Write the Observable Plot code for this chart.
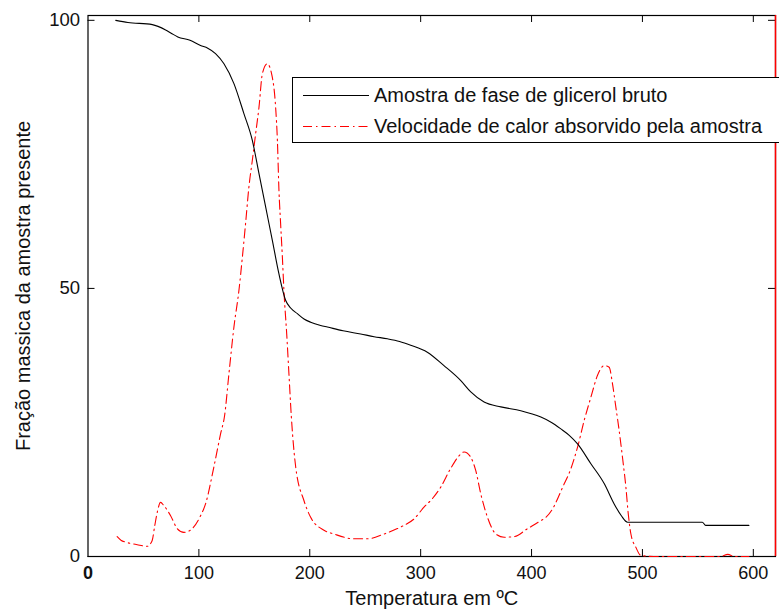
<!DOCTYPE html>
<html>
<head>
<meta charset="utf-8">
<script src="https://cdn.jsdelivr.net/npm/d3@7"></script>
<script src="https://cdn.jsdelivr.net/npm/@observablehq/plot@0.6"></script>
<style>
  html, body { margin: 0; padding: 0; background: #fff; overflow: hidden; }
  #wrap { position: relative; width: 779px; height: 612px; overflow: hidden; font-family: "Liberation Sans", Arial, sans-serif; }
  #legend { position: absolute; left: 292px; top: 77px; width: 520px; height: 64px; border: 1px solid #000; background: #fff; box-sizing: content-box; }
  .row { position: absolute; left: 0; height: 24px; display: flex; align-items: center; }
  .row span { position: absolute; left: 81px; white-space: nowrap; font-size: 20px; color: #111; }
  .row svg { position: absolute; left: 10px; }
</style>
</head>
<body>
<div id="wrap">
  <div id="chart"></div>
  <div id="legend"></div>
</div>
<script>
// ---- Data ----
// TG curve: mass fraction (%) vs temperature (°C)
const tgTemp = [25, 36, 58, 70, 75, 81, 92, 101.5, 108, 115, 122.6, 131.6, 140.6, 148.2, 154.2, 160.2, 166.2, 172.2, 178.2, 183, 188.8, 194.8, 200.8, 209.8, 215.9, 230, 245.9, 258, 270, 281, 291, 306, 321, 336.2, 345.2, 357.2, 372.3, 390.3, 408.4, 418, 426.4, 434, 441.5, 453.5, 465.5, 474.5, 481, 486.6, 500, 520, 554, 557, 575, 596];
const tgMass = [100, 99.6, 99.2, 98.2, 97.6, 96.9, 96.3, 95.3, 94.8, 93.8, 91.9, 88.2, 82.6, 77.6, 71.4, 65.2, 59, 52.7, 47.8, 46.3, 45.3, 44.3, 43.7, 43.1, 42.8, 42.1, 41.5, 41.0, 40.6, 40.1, 39.4, 38.1, 35.6, 32.8, 30.7, 28.8, 27.9, 27.2, 26, 25, 23.8, 22.6, 21, 17.3, 13.6, 9.8, 7.6, 6.4, 6.4, 6.4, 6.4, 5.8, 5.8, 5.8];

// Heat-absorption rate curve (drawn in left-axis units as it appears)
const hfTemp = [26.3, 30, 33.8, 44.4, 53.4, 57.9, 60, 62.5, 65.4, 68.4, 74.5, 80.5, 86.5, 94, 101.5, 106, 113.5, 119.6, 123.2, 127.1, 131.6, 136.1, 139.2, 142.1, 145.1, 148.2, 151.2, 154.2, 157.2, 161.7, 166.2, 169.2, 170.8, 172.2, 173.7, 175.3, 176.7, 179.2, 181.2, 183.4, 187.3, 194.8, 200.8, 212.8, 221.8, 239.9, 252, 267, 279, 285, 294, 303, 310.6, 318, 327, 334.7, 339.2, 345.2, 349.7, 354.2, 360.3, 367.8, 375.3, 384.3, 396.4, 408.4, 412.9, 419, 428, 435.5, 441.5, 447.5, 453.5, 459.5, 465.5, 470, 473, 476, 479, 482, 485.1, 487.2, 489.6, 494.1, 498.6, 510, 540, 570, 577, 583, 596];
const hfRate = [3.7, 3.0, 2.7, 2.2, 1.9, 3.0, 5.5, 8.3, 10.1, 9.5, 7.6, 5.2, 4.5, 5.2, 7.6, 9.8, 16.7, 22.9, 26.3, 34.1, 42.8, 49.6, 55.8, 62.1, 68.9, 73.9, 78.9, 83.8, 90, 91.9, 89.4, 83.8, 77.6, 68.3, 62.1, 55.8, 49.6, 41.5, 34.1, 26, 16.7, 10.4, 7.3, 4.9, 4.2, 3.3, 3.3, 4.2, 5.2, 5.8, 7.0, 9.2, 10.8, 12.9, 16.4, 18.8, 19.5, 18.5, 16.0, 11.7, 7.3, 4.2, 3.6, 3.7, 5.2, 6.7, 7.3, 8.9, 12.9, 16.4, 20.4, 25.4, 29.7, 33.8, 35.6, 35.3, 32.2, 27.9, 23.5, 18.5, 12.9, 8, 4.2, 1.7, 0.2, 0, 0, 0, 0.4, 0, 0];

const xTicks = [100, 200, 300, 400, 500, 600];
const yTicks = [0, 50, 100];
const xDomain = [0, 620];
const yDomain = [0, 100.9];
const seriesNames = ["Amostra de fase de glicerol bruto", "Velocidade de calor absorvido pela amostra"];
const xLabel = "Temperatura em ºC";
const yLabel = "Fração massica da amostra presente";

// ---- Layout ----
const W = 779, H = 612, mL = 87.5, mR = 4, mT = 15, mB = 56;
const innerW = W - mL - mR, innerH = H - mT - mB;
const tick = 7;
const dash = "9,4,1.5,4";

const tg = tgTemp.map((t, i) => ({t, v: tgMass[i]}));
const hf = hfTemp.map((t, i) => ({t, v: hfRate[i]}));

const chart = Plot.plot({
  width: W, height: H,
  marginLeft: mL, marginRight: mR, marginTop: mT, marginBottom: mB,
  style: {fontFamily: '"Liberation Sans", Arial, sans-serif', color: "#111", background: "#fff"},
  x: {domain: xDomain},
  y: {domain: yDomain},
  marks: [
    Plot.frame({stroke: "#000", strokeWidth: 1.2}),
    Plot.line(hf, {x: "t", y: "v", stroke: "#ff0000", strokeWidth: 1.1, strokeDasharray: dash, curve: "monotone-x"}),
    Plot.line(tg, {x: "t", y: "v", stroke: "#000", strokeWidth: 1.1, curve: "monotone-x"}),
    // inward ticks
    Plot.tickX(xTicks, {x: d => d, insetTop: innerH - tick, stroke: "#000"}),
    Plot.tickX(xTicks, {x: d => d, insetBottom: innerH - tick, stroke: "#000"}),
    Plot.tickY(yTicks, {y: d => d, insetRight: innerW - tick, stroke: "#000"}),
    Plot.tickY(yTicks, {y: d => d, insetLeft: innerW - tick, stroke: "#000"}),
    // right (red) axis line
    Plot.ruleX([xDomain[1]], {stroke: "#ff0000", strokeWidth: 1.5}),
    Plot.axisX(xTicks, {tickSize: 0, tickPadding: 10, fontSize: 18, label: xLabel, labelAnchor: "center", labelOffset: 48, labelArrow: "none"}),
    Plot.text([0], {x: d => d, frameAnchor: "bottom", lineAnchor: "top", dy: 10, text: d => String(d), fontSize: 18, fontWeight: "bold"}),
    Plot.axisY(yTicks, {tickSize: 0, tickPadding: 8, fontSize: 18.5, label: yLabel, labelAnchor: "center", labelOffset: 72, labelArrow: "none"})
  ]
});
document.getElementById("chart").appendChild(chart);
chart.querySelectorAll('[aria-label="x-axis label"] text, [aria-label="y-axis label"] text').forEach(t => {
  t.setAttribute("font-size", "20");
  t.style.fontSize = "20px";
});

// ---- Legend ----
const legend = document.getElementById("legend");
const styles = [{stroke: "#000", dash: null}, {stroke: "#ff0000", dash: dash}];
seriesNames.forEach((name, i) => {
  const row = document.createElement("div");
  row.className = "row";
  row.style.top = (i === 0 ? 5 : 36) + "px";
  const s = d3.create("svg").attr("width", 66).attr("height", 24);
  s.append("line").attr("x1", 0).attr("x2", 66).attr("y1", 12.5).attr("y2", 12.5)
    .attr("stroke", styles[i].stroke).attr("stroke-width", 1.2)
    .attr("stroke-dasharray", styles[i].dash);
  row.appendChild(s.node());
  const sp = document.createElement("span");
  sp.textContent = name;
  row.appendChild(sp);
  legend.appendChild(row);
});
</script>
</body>
</html>
